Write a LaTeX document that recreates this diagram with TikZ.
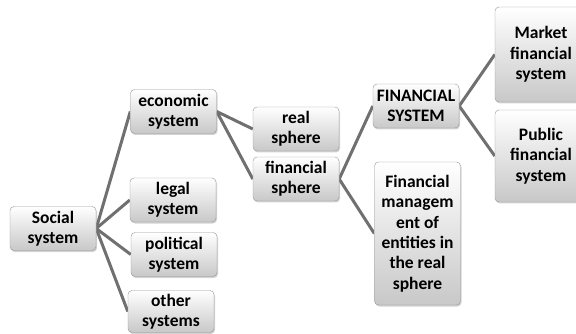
\documentclass[tikz,border=0pt]{standalone}
\usepackage{fontspec}
\setmainfont{Carlito}
\usetikzlibrary{shadows,backgrounds}

\definecolor{linkgray}{RGB}{112,112,112}
\definecolor{boxline}{RGB}{150,150,150}
\definecolor{boxbot}{RGB}{200,200,200}

\tikzset{
  sysbox/.style={draw=boxline, rounded corners=4pt, top color=white, bottom color=boxbot,
    drop shadow={opacity=0.35, shadow xshift=1pt, shadow yshift=-1.5pt},
    align=center, inner sep=0pt, minimum width=86pt, minimum height=44pt,
    font=\bfseries\fontsize{17.5}{20.3}\selectfont},
  link/.style={draw=linkgray, line width=3pt}
}

\begin{document}
\begin{tikzpicture}[x=1pt, y=-1pt]
    \useasboundingbox (0,0) rectangle (576,334);
    \clip (0,0) rectangle (576,334);
    \node[sysbox]                          (social) at (53,228.5)  {Social\\system};
    \node[sysbox]                          (econ)   at (173.5,111.5) {economic\\system};
    \node[sysbox]                          (legal)  at (173,200)  {legal\\system};
    \node[sysbox]                          (polit)  at (174,254.5) {political\\system};
    \node[sysbox, minimum height=42pt]     (other)  at (171,311.5) {other\\systems};
    \node[sysbox]                          (real)   at (296,129)  {real\\sphere};
    \node[sysbox]                          (finsph) at (296,179)  {financial\\sphere};
    \node[sysbox]                          (finsys) at (416,106)  {FINANCIAL\\SYSTEM};
    \node[sysbox, minimum height=143pt]    (finmgt) at (417.5,233.5)
        {Financial\\managem\\ent of\\entities in\\the real\\sphere};
    \node[sysbox, minimum width=92pt, minimum height=95pt] (market) at (541,54.5)
        {Market\\financial\\system};
    \node[sysbox, minimum width=92pt, minimum height=92pt] (public) at (541,156)
        {Public\\financial\\system};
    % connectors
    \begin{scope}[on background layer]
    \foreach \t in {econ,legal,polit,other}
        \draw[link] (social.east) -- (\t.west);
    \draw[link] (econ.east) -- (real.west);
    \draw[link] (econ.east) -- (finsph.west);
    \draw[link] (finsph.east) -- (finsys.west);
    \draw[link] (finsph.east) -- (finmgt.west);
    \draw[link] (finsys.east) -- (market.west);
    \draw[link] (finsys.east) -- (public.west);
    \end{scope}
\end{tikzpicture}
\end{document}
